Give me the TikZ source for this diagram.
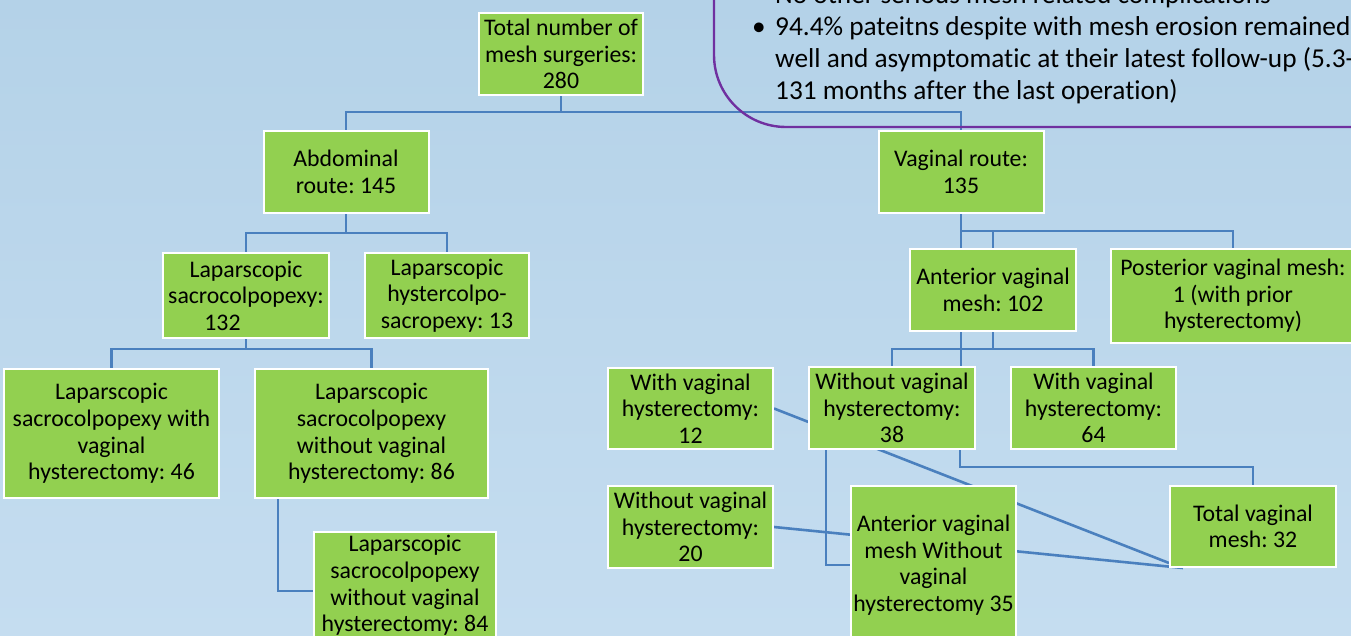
\documentclass[tikz,border=0pt]{standalone}
\usepackage{fontspec}
\setmainfont{Carlito}[Ligatures=NoCommon]
\pgfdeclarelayer{bg}
\pgfdeclarelayer{edges}
\pgfsetlayers{bg,edges,main}
\definecolor{bgtop}{RGB}{180,210,232}
\definecolor{bgbot}{RGB}{197,221,240}
\definecolor{boxgreen}{RGB}{146,208,80}
\definecolor{linkblue}{RGB}{74,128,190}
\definecolor{calloutpurple}{RGB}{112,48,160}
\tikzset{
  boxfont/.style={font=\frenchspacing\fontsize{23.8}{26.6}\selectfont, text=black, align=center},
  box/.style={draw=white, line width=2pt, fill=boxgreen, inner sep=0pt, boxfont},
  link/.style={draw=linkblue, line width=2.6pt},
  ctext/.style={font=\frenchspacing\fontsize{27.3}{32}\selectfont, inner sep=0pt, anchor=base west, text=black}
}
\begin{document}
\begin{tikzpicture}[x=1pt,y=-1pt]
\useasboundingbox (0,0) rectangle (1351,636);
\begin{pgfonlayer}{bg}
  \fill[top color=bgtop, bottom color=bgbot] (0,0) rectangle (1351,636);
\end{pgfonlayer}

% nodes
\node[box, minimum width=164pt, minimum height=82pt] (total) at (561,54) {Total number of\\mesh surgeries:\\280};
\node[box, minimum width=165pt, minimum height=82pt] (abd) at (346,172) {Abdominal\\route: 145};
\node[box, minimum width=165pt, minimum height=82pt] (vag) at (961,172) {Vaginal route:\\135};
\node[box, minimum width=166pt, minimum height=85pt] (ls132) at (246,295.5) {Laparscopic\\sacrocolpopexy:\\132\hbox to 47pt{}};
\node[box, minimum width=164pt, minimum height=85pt] (lh13) at (447,295.5) {Laparscopic\\hystercolpo-\\sacropexy: 13};
\node[box, minimum width=166pt, minimum height=82pt] (ant102) at (993,290) {Anterior vaginal\\mesh: 102};
\node[box, minimum width=244pt, minimum height=94pt] (post) at (1233,296) {Posterior vaginal mesh:\\1 (with prior\\hysterectomy)};
\node[box, minimum width=215pt, minimum height=129pt] (ls46) at (111.5,433.5) {Laparscopic\\sacrocolpopexy with\\vaginal\\hysterectomy: 46};
\node[box, minimum width=233pt, minimum height=129pt] (ls86) at (371.5,433.5) {Laparscopic\\sacrocolpopexy\\without vaginal\\hysterectomy: 86};
\node[box, minimum width=182pt, minimum height=114pt] (ls84) at (405,589) {};
\node[boxfont, inner sep=0pt] (ls84t) at (405,585.5) {Laparscopic\\sacrocolpopexy\\without vaginal\\hysterectomy: 84};
\node[box, minimum width=165pt, minimum height=81pt] (w12) at (690.5,408.5) {With vaginal\\hysterectomy:\\12};
\node[box, minimum width=166pt, minimum height=82pt] (wo38) at (892,408) {Without vaginal\\hysterectomy:\\38};
\node[box, minimum width=165pt, minimum height=82pt] (w64) at (1093.5,408) {With vaginal\\hysterectomy:\\64};
\node[box, minimum width=165pt, minimum height=82pt] (wo20) at (690.5,527) {Without vaginal\\hysterectomy:\\20};
\node[box, minimum width=165pt, minimum height=158pt] (ant35) at (933.5,565) {Anterior vaginal\\mesh Without\\vaginal\\hysterectomy 35};
\node[box, minimum width=166pt, minimum height=81pt] (tv32) at (1253,526.5) {Total vaginal\\mesh: 32};

% connectors
\begin{pgfonlayer}{edges}
  \draw[link] (total.south) -- ++(0,16);
  \draw[link] (abd.north) -- ++(0,-18) -| (vag.north);
  \draw[link] (abd.south) -- ++(0,20);
  \draw[link] (ls132.north) -- ++(0,-19) -| (lh13.north);
  \draw[link] (ls132.south) -- ++(0,11);
  \draw[link] (ls46.north) -- ++(0,-19) -| (ls86.north);
  \draw[link] ([xshift=-93.5pt]ls86.south) |- ([yshift=-2pt]ls84.west);
  \coordinate (hv) at (961,231);
  \draw[link] (vag.south) -- (vag.south |- ant102.north);
  \draw[link] (hv) -| (post.north);
  \draw[link] (ant102.north) -- (ant102.north |- hv);
  \draw[link] ([xshift=-32pt]ant102.south) -- ([xshift=-32pt]ant102.south |- wo38.north);
  \draw[link] (ant102.south) -- ++(0,17);
  \draw[link] (wo38.north) -- ++(0,-17) -| (w64.north);
  \draw[link] ([xshift=68pt]wo38.south) -- ++(0,17) -| (tv32.north);
  \draw[link] ([xshift=-66pt]wo38.south) |- (ant35.west);
  \draw[link] (w12.east) -- ([yshift=5pt]tv32.south west);
  \draw[link] (wo20.east) -- ([xshift=14pt]tv32.south west);
\end{pgfonlayer}

% callout
\coordinate (ctop) at (714,-10);
\coordinate (cend) at (1351,127);
\draw[calloutpurple, line width=2.4pt, rounded corners=72pt] (ctop) -- (ctop |- cend) -- (cend);
\node[ctext] (c1) at (775,4) {No other serious mesh related complications};
\node[ctext, anchor=base] (cb) at (759,36) {•};
\node[ctext] (c2) at (775,36) {94.4\% pateitns despite with mesh erosion remained};
\node[ctext] (c3) at (775,68) {well and asymptomatic at their latest follow-up (5.3-};
\node[ctext] (c4) at (775,100) {131 months after the last operation)};
\end{tikzpicture}
\end{document}
